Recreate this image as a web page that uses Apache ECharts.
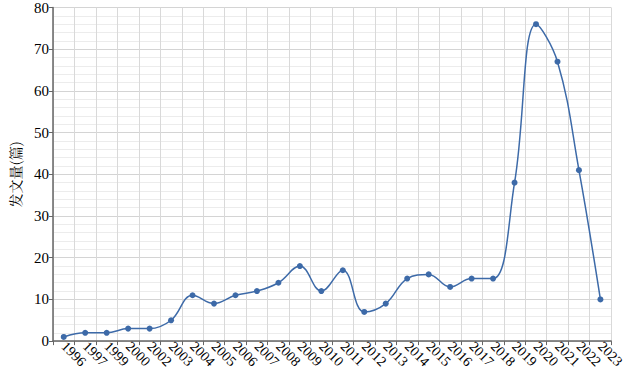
<!DOCTYPE html>
<html><head><meta charset="utf-8">
<script src="https://cdn.jsdelivr.net/npm/echarts@6/dist/echarts.min.js"></script>
<style>html,body{margin:0;padding:0;background:#fff}#c{width:627px;height:371px}</style>
</head><body><div id="c"></div>
<script>
var years = ['1996','1997','1999','2000','2002','2003','2004','2005','2006','2007','2008','2009','2010','2011','2012','2013','2014','2015','2016','2017','2018','2019','2020','2021','2022','2023'];
var counts = [1,2,2,3,3,5,11,9,11,12,14,18,12,17,7,9,15,16,13,15,15,38,76,67,41,10];
var yTicks = [0,10,20,30,40,50,60,70,80];
var yName = '发文量(篇)';

var chart = echarts.init(document.getElementById('c'), null, {renderer:'svg'});
var font = "'Liberation Serif', 'Times New Roman', Times, serif";
chart.setOption({
  animation:false,
  textStyle:{fontFamily:font},
  grid:{left:44,right:10,top:4,bottom:29,containLabel:false},
  xAxis:{
    type:'category', data:years, boundaryGap:true,
    axisLine:{lineStyle:{color:'#666',width:1.5}},
    axisTick:{show:true,alignWithLabel:false,interval:0,length:4,lineStyle:{color:'#666'}},
    axisLabel:{rotate:-45,interval:0,fontFamily:font,fontSize:14,color:'#000',margin:3},
    splitLine:{show:true,interval:0,lineStyle:{color:'#d9d9d9',width:1}},
    minorTick:{show:false},
    minorSplitLine:{show:false}
  },
  yAxis:{
    type:'value', min:yTicks[0], max:yTicks[yTicks.length-1], interval:10,
    name:yName, nameLocation:'middle', nameGap:31, nameRotate:90,
    nameTextStyle:{fontFamily:'Noto Serif CJK SC, Noto Sans CJK SC, serif',fontSize:14,color:'#000'},
    axisLine:{show:true,lineStyle:{color:'#666',width:1.5}},
    axisTick:{show:true,length:4,lineStyle:{color:'#666'}},
    axisLabel:{fontFamily:font,fontSize:15,color:'#000',margin:4},
    splitLine:{show:true,lineStyle:{color:'#d4d4d4',width:1}},
    minorTick:{show:false,splitNumber:5},
    minorSplitLine:{show:true,lineStyle:{color:'#ececec',width:1}}
  },
  series:[{
    type:'line', data:counts, smooth:0.4,
    symbol:'circle', symbolSize:6,
    itemStyle:{color:'#3d6aa8'},
    lineStyle:{color:'#3d6aa8',width:1.5}
  }]
});
</script></body></html>
